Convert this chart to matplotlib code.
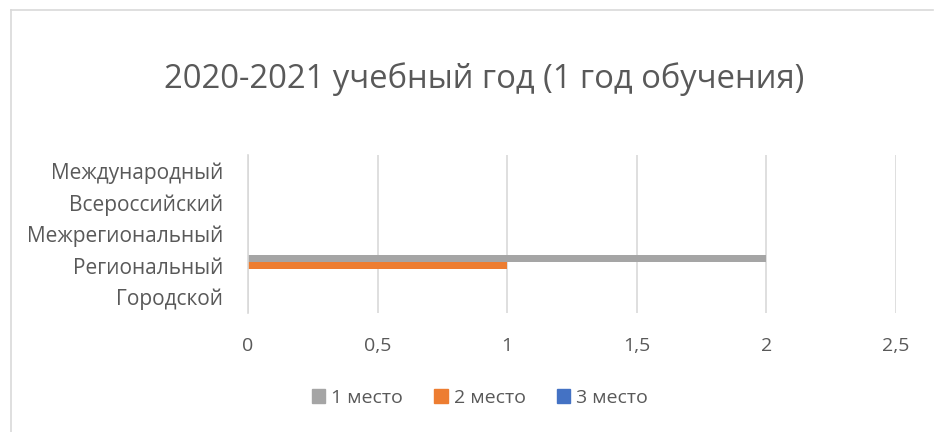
import numpy as np
import matplotlib
matplotlib.use('Agg')
import matplotlib.pyplot as plt
from matplotlib.lines import Line2D

plt.rcParams['font.family'] = ['Open Sans', 'DejaVu Sans']

categories = ['Городской', 'Региональный', 'Межрегиональный', 'Всероссийский', 'Международный']
series_names = ['1 место', '2 место', '3 место']
place_1 = [0, 2, 0, 0, 0]
place_2 = [0, 1, 0, 0, 0]
place_3 = [0, 0, 0, 0, 0]
x_ticks = [0, 0.5, 1, 1.5, 2, 2.5]
x_tick_labels = ['0', '0,5', '1', '1,5', '2', '2,5']
colors = ['#a5a5a5', '#ed7d31', '#4472c4']
title = '2020-2021 учебный год (1 год обучения)'

text_color = '#595959'
grid_color = '#d9d9d9'
W, H = 934, 432

fig = plt.figure(figsize=(W / 100, H / 100), dpi=100)
ax = fig.add_axes([248 / W, 1 - 313 / H, (896 - 248) / W, (313 - 155) / H])

y = np.arange(len(categories))
bar_h = 0.215
offsets = [bar_h, 0, -bar_h]
for vals, name, col, off in zip([place_1, place_2, place_3], series_names, colors, offsets):
    ax.barh(y + off, vals, height=bar_h, color=col, label=name, zorder=3)

ax.set_xlim(0, 2.5)
ax.set_ylim(-0.5, len(categories) - 0.5)
ax.set_xticks(x_ticks)
ax.set_xticklabels(x_tick_labels)
ax.set_yticks(y)
ax.set_yticklabels(categories)
ax.tick_params(axis='x', length=0, labelsize=14, labelcolor=text_color, pad=17)
ax.tick_params(axis='y', length=0, labelsize=15, labelcolor=text_color, pad=18)
ax.grid(axis='x', color=grid_color, linewidth=1.2, zorder=0)
for side in ['top', 'right', 'bottom']:
    ax.spines[side].set_visible(False)
ax.spines['left'].set_color(grid_color)
ax.spines['left'].set_linewidth(1.2)
ax.spines['left'].set_zorder(4)

fig.text(484 / W, 1 - 79 / H, title, ha='center', va='center', fontsize=23.6, color=text_color)

handles = [plt.Rectangle((0, 0), 1, 1, color=c) for c in colors]
fig.legend(handles, series_names, loc='center', bbox_to_anchor=(480 / W, 1 - 398 / H),
           ncol=3, frameon=False, fontsize=14, labelcolor=text_color,
           handlelength=0.7, handleheight=0.7, handletextpad=0.3, columnspacing=1.6)

# chart border (left and top edges only are visible)
fig.add_artist(Line2D([11 / W, 11 / W], [0, 1 - 10 / H], color=grid_color, linewidth=1.2))
fig.add_artist(Line2D([11 / W, 933 / W], [1 - 10 / H, 1 - 10 / H], color=grid_color, linewidth=1.2))

fig.savefig('out.png', dpi=100)
